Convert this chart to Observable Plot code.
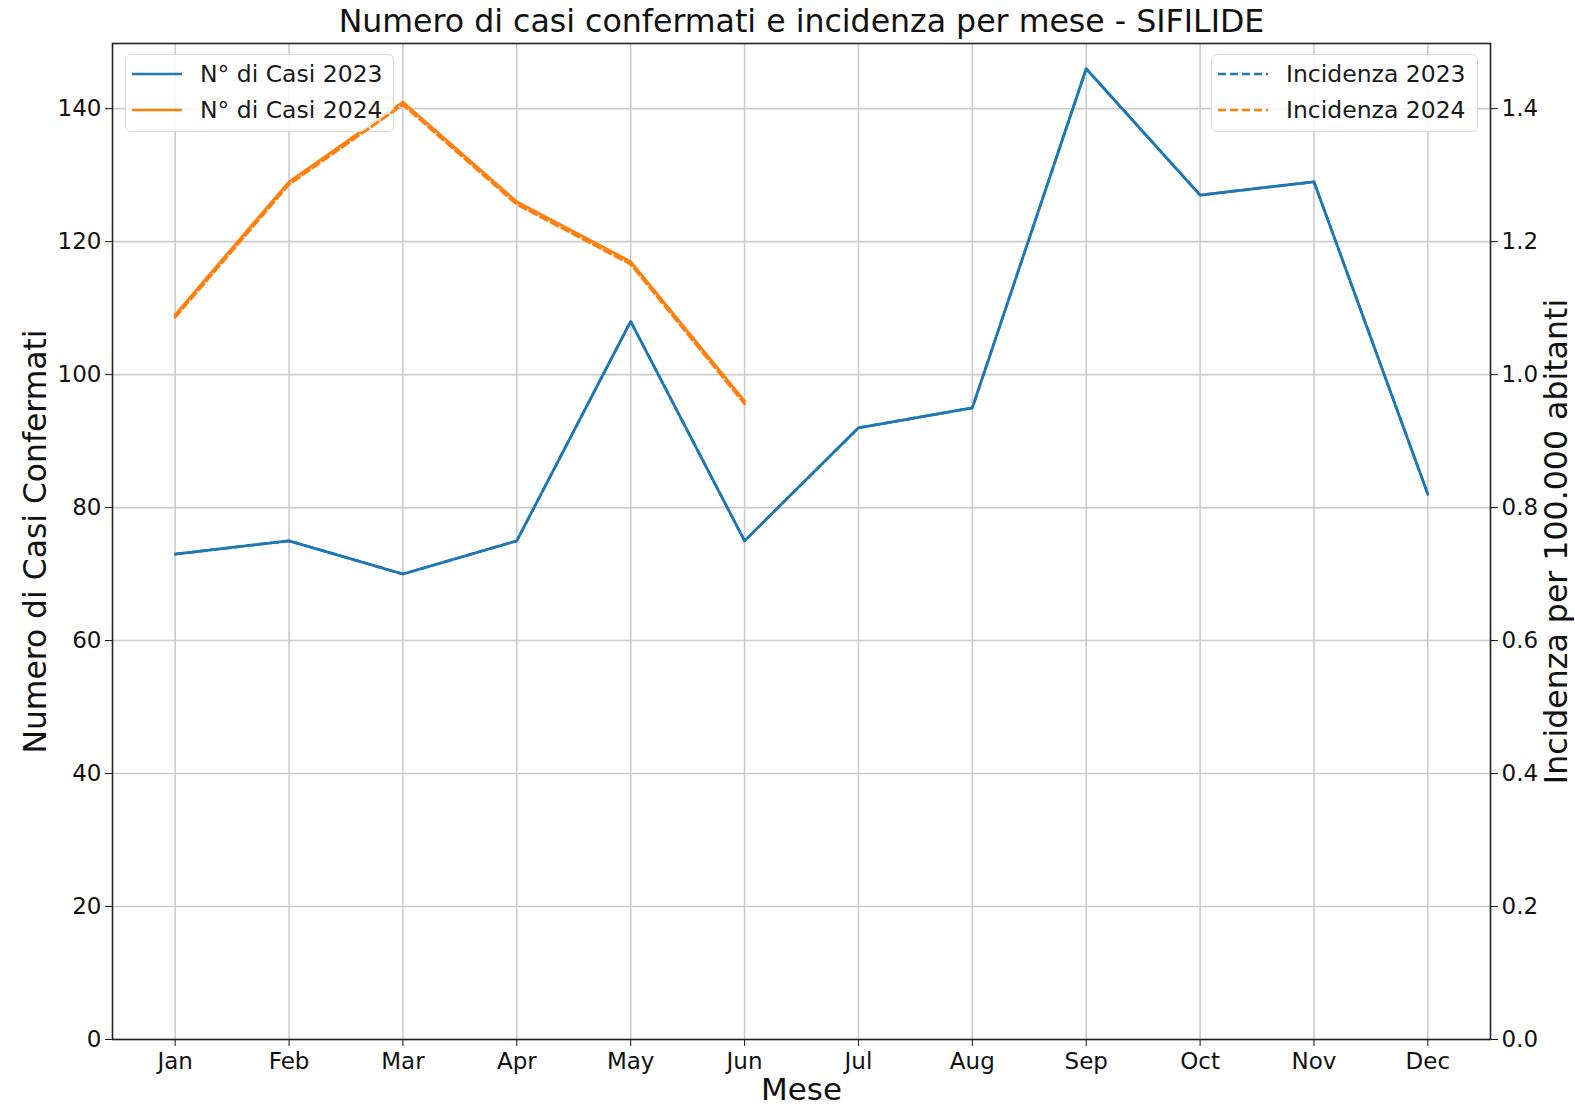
<!DOCTYPE html>
<html><head><meta charset="utf-8">
<script src="https://cdn.jsdelivr.net/npm/d3@7"></script>
<script src="https://cdn.jsdelivr.net/npm/@observablehq/plot@0.6"></script>
<style>
html,body{margin:0;padding:0;background:#fff;overflow:hidden;}
#wrap{position:relative;width:1575px;height:1107px;font-family:"DejaVu Sans",sans-serif;}
#wrap svg.plt{position:absolute;left:0;top:0;}
.legend{position:absolute;background:rgba(255,255,255,0.8);border:1.5px solid #d9d9d9;border-radius:6px;box-sizing:border-box;font-size:23.5px;color:#1a1a1a;}
.legend .row{position:absolute;left:0;height:30px;white-space:nowrap;}
.legend .row svg{position:absolute;top:0;}
.legend .row span{position:absolute;top:1px;line-height:28px;}
</style></head>
<body><div id="wrap"></div>
<script>
const months = ["Jan","Feb","Mar","Apr","May","Jun","Jul","Aug","Sep","Oct","Nov","Dec"];
const casi2023 = [73,75,70,75,108,75,92,95,146,127,129,82];
const casi2024 = [109,129,141,126,117,96];
const incid2023 = [0.73,0.75,0.70,0.75,1.08,0.75,0.92,0.95,1.46,1.27,1.29,0.82];
const incid2024 = [1.086,1.286,1.406,1.256,1.166,0.956];
const ticksLeft = [0,20,40,60,80,100,120,140];
const ticksRight = [0,0.2,0.4,0.6,0.8,1.0,1.2,1.4];
const blue = "#1f77b4", orange = "#ff7f0e";

const rows = (vals) => vals.map((v,i)=>({mese:months[i], v}));

const common = {
  width:1575, height:1107,
  marginLeft:112, marginRight:85, marginTop:43, marginBottom:68,
  className:"plt",
  style:{background:"transparent", fontFamily:"DejaVu Sans", fontSize:"23px", color:"#111", overflow:"visible"}
};

const xScale = {type:"point", domain:months, padding:0.55, round:false};

const p1 = Plot.plot({
  ...common,
  x:{...xScale},
  y:{domain:[0,149.8]},
  marks:[
    Plot.gridX({stroke:"#cccccc", strokeOpacity:1, strokeWidth:1.6}),
    Plot.gridY(ticksLeft, {stroke:"#cccccc", strokeOpacity:1, strokeWidth:1.6}),
    Plot.lineY(rows(casi2023), {x:"mese", y:"v", stroke:blue, strokeWidth:2.7}),
    Plot.lineY(rows(casi2024), {x:"mese", y:"v", stroke:orange, strokeWidth:2.7}),
    Plot.axisX({tickSize:7, tickPadding:6, label:null, fontSize:23}),
    Plot.axisY(ticksLeft, {tickSize:7, tickPadding:4, label:null, fontSize:23}),
    Plot.frame({stroke:"#222", strokeWidth:1.6}),
    Plot.text(["Numero di Casi Confermati"], {frameAnchor:"left", dx:-77, rotate:-90, fontSize:31.4, textAnchor:"middle", lineAnchor:"middle"}),
    Plot.text(["Mese"], {frameAnchor:"bottom", dy:51, fontSize:31, textAnchor:"middle", lineAnchor:"middle"}),
    Plot.text(["Numero di casi confermati e incidenza per mese - SIFILIDE"], {frameAnchor:"top", dy:-22, fontSize:31.6, textAnchor:"middle", lineAnchor:"middle"})
  ]
});

const p2 = Plot.plot({
  ...common,
  x:{...xScale, axis:null},
  y:{domain:[0,1.498]},
  marks:[
    Plot.lineY(rows(incid2023), {x:"mese", y:"v", stroke:blue, strokeWidth:2.7, strokeDasharray:"8,4"}),
    Plot.lineY(rows(incid2024), {x:"mese", y:"v", stroke:orange, strokeWidth:2.7, strokeDasharray:"8,4"}),
    Plot.axisY(ticksRight, {anchor:"right", tickSize:7, tickPadding:4, tickFormat:".1f", label:null, fontSize:23}),
    Plot.text(["Incidenza per 100.000 abitanti"], {frameAnchor:"right", dx:66, rotate:-90, fontSize:31.6, textAnchor:"middle", lineAnchor:"middle"})
  ]
});

function legend(pos, items) {
  const box = document.createElement("div");
  box.className = "legend";
  Object.assign(box.style, {left:pos[0]+"px", top:pos[1]+"px", width:pos[2]+"px", height:pos[3]+"px"});
  items.forEach((it, i) => {
    const r = document.createElement("div");
    r.className = "row";
    r.style.top = (4 + i*36) + "px";
    r.style.width = "100%";
    r.innerHTML = `<svg width="60" height="30" style="left:5px"><line x1="1" x2="51" y1="15" y2="15" stroke="${it.color}" stroke-width="2.7" ${it.dash ? 'stroke-dasharray="8,4"' : ''}/></svg><span style="left:${it.tx}px">${it.label}</span>`;
    box.appendChild(r);
  });
  return box;
}

const wrap = document.getElementById("wrap");
wrap.appendChild(p1);
wrap.appendChild(legend([125,54,269,78], [
  {label:"N° di Casi 2023", color:blue, dash:false, tx:74},
  {label:"N° di Casi 2024", color:orange, dash:false, tx:74}
]));
wrap.appendChild(p2);
wrap.appendChild(legend([1211,54,267,78], [
  {label:"Incidenza 2023", color:blue, dash:true, tx:74},
  {label:"Incidenza 2024", color:orange, dash:true, tx:74}
]));
</script>
</body></html>
